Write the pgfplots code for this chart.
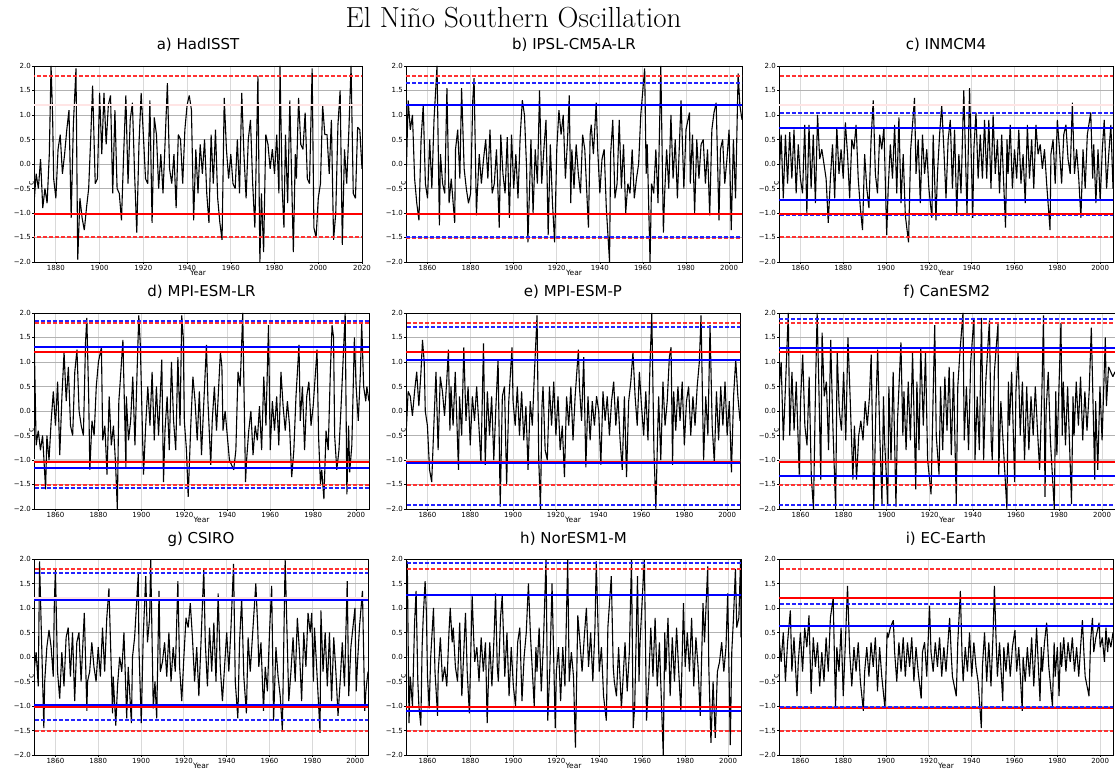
\documentclass[border=0pt]{standalone}
\usepackage{fontspec}
\usepackage{pgfplots}
\pgfplotsset{compat=1.18}
\newfontfamily\dv{DejaVu Sans}
\definecolor{lred}{RGB}{255,50,50}
\definecolor{lblue}{RGB}{35,35,255}
\newcommand{\hlrs}[1]{\addplot[forget plot, draw=red, line width=2pt, solid] coordinates {(1800,#1) (2100,#1)};}
\newcommand{\hlbs}[1]{\addplot[forget plot, draw=blue, line width=2pt, solid] coordinates {(1800,#1) (2100,#1)};}
\newcommand{\hlrd}[1]{\addplot[forget plot, draw=lred, line width=2pt, dash pattern=on 4pt off 2pt] coordinates {(1800,#1) (2100,#1)};}
\newcommand{\hlbd}[1]{\addplot[forget plot, draw=lblue, line width=2pt, dash pattern=on 4pt off 2pt] coordinates {(1800,#1) (2100,#1)};}
\newcommand{\hlrf}[1]{\addplot[forget plot, draw=red!10, line width=1.5pt, solid] coordinates {(1800,#1) (2100,#1)};}
\newcommand{\hlgb}[1]{\addplot[forget plot, draw=gray!35, line width=3pt, solid] coordinates {(1800,#1) (2100,#1)};}
\pgfplotsset{
  ser/.style={draw=black, line width=1.1pt, mark=none, line join=bevel, forget plot},
  enso/.style={
    scale only axis, width=334pt, height=196pt,
    anchor=south west,
    ymin=-2, ymax=2,
    ytick={-2,-1.5,-1,-0.5,0,0.5,1,1.5,2},
    yticklabels={−2.0,−1.5,−1.0,−0.5,0.0,0.5,1.0,1.5,2.0},
    xmin=1850, xmax=2006,
    xtick={1860,1880,1900,1920,1940,1960,1980,2000},
    xticklabels={1860,1880,1900,1920,1940,1960,1980,2000},
    tick align=outside, major tick length=2pt,
    xtick pos=lower, ytick pos=left,
    tick style={black, line width=0.6pt},
    xmajorgrids, ymajorgrids,
    y grid style={gray!60, line width=0.8pt},
    x grid style={gray!30, line width=0.9pt},
    axis line style={black, line width=0.9pt},
    ticklabel style={font=\dv\fontsize{7}{8}\selectfont, inner sep=1pt},
    xlabel={Year},
    xlabel style={font=\dv\fontsize{7.5}{8}\selectfont, at={(axis description cs:0.5,0)}, anchor=north, yshift=-8pt, inner sep=0pt},
    ylabel={c},
    ylabel style={font=\dv\fontsize{8}{9}\selectfont, at={(axis description cs:0,0.5)}, anchor=south, xshift=-19pt, inner sep=0pt},
    title style={font=\dv\fontsize{15}{16}\selectfont, at={(axis description cs:0.5,1)}, anchor=base, yshift=10pt},
  }
}
\begin{document}
\begin{tikzpicture}
\path[use as bounding box] (0,0) rectangle (1115pt,773pt);
\node[font=\fontsize{29}{32}\selectfont, anchor=base] at (513.5pt,745pt) {El Niño Southern Oscillation};

% a) HadISST
\begin{axis}[enso, at={(34pt,511pt)}, width=328pt, title={a) HadISST}, xmin=1870, xmax=2020,
  xtick={1880,1900,1920,1940,1960,1980,2000,2020}, xticklabels={1880,1900,1920,1940,1960,1980,2000,2020}]
\addplot[ser] coordinates {(1870,-0.8)(1871,-0.2)(1872,-0.5)(1873,0.1)(1874,-0.9)(1875,-0.5)(1876,-0.8)(1877,0.2)(1877.8,2.0)(1878.5,1.0)(1879,-0.3)(1880,-0.7)(1881,0.3)(1882,0.6)(1883,-0.2)(1884,0.2)(1885,0.7)(1886,1.1)(1887,-1.1)(1888,0.8)(1889.2,1.95)(1890,-1.95)(1891,-0.7)(1892,-1.1)(1893,-1.35)(1894,-0.9)(1895,-0.5)(1896,0.6)(1896.8,1.6)(1898,-0.4)(1899,-0.3)(1900,1.45)(1901,0.2)(1902,1.45)(1903,0.4)(1904,1.2)(1905,1.4)(1906,-0.6)(1907,1.1)(1908,-0.5)(1909,-0.6)(1910,-1.15)(1911,0.2)(1912,1.4)(1913,-0.4)(1914,0.9)(1915,1.25)(1916,-0.2)(1917,-1.4)(1918,0.4)(1919,1.45)(1920,0.6)(1921,-0.3)(1922,-0.4)(1923,1.3)(1924,-1.2)(1925,0.95)(1926,0.6)(1927,-0.5)(1928,0.2)(1929,-0.6)(1930,0.5)(1931,1.65)(1932,-0.1)(1933,-0.4)(1934,0.2)(1935,-0.9)(1936,0.6)(1937,0.5)(1938,-0.4)(1939,0.7)(1940,1.2)(1941,1.4)(1942,1.1)(1943,-1.15)(1944,0.3)(1945,-0.6)(1946,0.4)(1947,-0.2)(1948,0.5)(1949,-0.6)(1950,-1.2)(1951,0.6)(1952,-0.4)(1953,0.7)(1954,-0.7)(1955,-1.2)(1956,-1.55)(1957,1.35)(1958,0.3)(1959,-0.3)(1960,0.2)(1961,-0.4)(1962,-0.5)(1963,0.5)(1964,-0.6)(1965,1.45)(1966,0.2)(1967,-0.7)(1968,0.5)(1969,0.9)(1970,-0.4)(1971,-1.3)(1972.4,1.8)(1973.3,-2.0)(1974,-0.6)(1975,-1.8)(1976,0.6)(1977,0.4)(1978,-0.1)(1979,0.3)(1980,-0.2)(1981,0.6)(1982,-0.6)(1982.5,2.0)(1983.5,-0.5)(1984.3,-1.3)(1985,0.6)(1986,-0.8)(1987,1.3)(1988.6,-1.8)(1989.5,0.2)(1990,-0.3)(1991,1.35)(1992,0.4)(1993,0.3)(1994,1.05)(1995,-0.3)(1996,-0.4)(1997.2,1.95)(1998,-1.3)(1999,-1.5)(2000,-0.7)(2001,-0.4)(2002,1.2)(2003,0.6)(2004,0.6)(2005,-0.2)(2006,0.9)(2007,-1.55)(2008,-1.0)(2009,0.8)(2010,1.5)(2011,-1.65)(2012,0.3)(2013,-0.4)(2014,0.7)(2015,2.0)(2016,-0.6)(2017,-0.7)(2018,0.75)(2019,0.7)(2020,-0.1)};
\hlrf{1.2}
\hlrd{1.79}
\hlrd{-1.5}
\hlrs{-1.03}
\end{axis}

% b) IPSL-CM5A-LR
\begin{axis}[enso, at={(406pt,511pt)}, width=336pt, title={b) IPSL-CM5A-LR}]
\addplot[ser] coordinates {(1850,-0.4)(1851,1.3)(1852,0.7)(1853,1.0)(1854,-0.3)(1855,-0.8)(1856,-1.15)(1857,0.5)(1858,1.2)(1859,-0.4)(1860,-0.7)(1861,0.5)(1862,-0.5)(1863,0.9)(1864.4,2.0)(1865.5,-1.25)(1866,0.2)(1867,-0.4)(1868,-0.6)(1869,1.55)(1870,-0.8)(1871,-0.3)(1872.6,-1.2)(1873,0.3)(1874,0.7)(1875,-0.3)(1875.8,1.55)(1877,-0.1)(1878,-0.5)(1879,-0.8)(1880,-0.6)(1881,1.3)(1881.6,1.75)(1882.7,-1.05)(1883,-0.7)(1884,0.2)(1885,-0.4)(1886,0.1)(1887,0.5)(1888,-0.3)(1889,0.7)(1890,-0.6)(1891,-0.4)(1892,0.3)(1893.3,-1.3)(1894,0.6)(1895,-0.2)(1896,-0.6)(1897,0.55)(1898,-1.1)(1899,0.6)(1900,-0.5)(1901,0.2)(1902,-0.7)(1903,0.55)(1904,1.3)(1905,1.0)(1906,-0.1)(1906.6,-1.6)(1907.5,-0.3)(1908,0.5)(1909,-1.0)(1910,0.3)(1911,-0.4)(1912,1.5)(1913,-0.4)(1914,0.3)(1915,0.9)(1916,-1.45)(1917,0.4)(1918,-0.8)(1919,-1.6)(1920,0.3)(1921,1.1)(1922,0.6)(1923,1.0)(1924,-0.3)(1925,0.5)(1925.8,1.4)(1926.5,-0.8)(1927,0.3)(1928,-0.5)(1929,0.4)(1930,-0.2)(1931,-0.6)(1932,0.6)(1933,0.3)(1934.7,-1.3)(1935.5,0.6)(1936,0.8)(1937,0.2)(1938.3,1.25)(1939,0.3)(1940,-0.6)(1941,0.1)(1942,0.3)(1943,-0.9)(1944.5,-2.0)(1945,0.2)(1946,0.9)(1947,-0.7)(1948,-0.4)(1949,0.9)(1950,-0.5)(1951,0.4)(1952,-1.0)(1953,-0.4)(1954,-0.6)(1955,0.3)(1956,-0.7)(1957,-0.3)(1958,0.0)(1959,1.0)(1960.8,1.95)(1961.5,-0.2)(1962,0.4)(1963.3,-2.0)(1964,-0.4)(1965,-0.6)(1966,0.3)(1967,-0.8)(1968.3,2.0)(1969.5,-1.4)(1970,-0.7)(1971,0.3)(1972,-0.5)(1973,1.0)(1974,-0.3)(1975,0.5)(1976,-0.7)(1977.7,1.3)(1978.5,0.2)(1979,-0.5)(1980,0.7)(1981.6,1.05)(1982,-0.4)(1983,0.6)(1984,-1.0)(1985,0.5)(1986,-0.3)(1987,0.4)(1988,0.5)(1989,-0.4)(1990,0.3)(1991,-1.05)(1992,0.7)(1993,1.05)(1994,1.25)(1995.3,-1.15)(1996,0.3)(1997,0.5)(1998,-0.4)(1999,0.1)(2000,0.7)(2001,-1.35)(2002,0.5)(2003,-0.7)(2004.2,1.85)(2005,1.2)(2006,0.9)};
\hlrd{1.79}
\hlrd{-1.51}
\hlbd{1.65}
\hlbd{-1.48}
\hlbs{1.2}
\hlrs{-1.03}
\end{axis}

% c) INMCM4
\begin{axis}[enso, at={(779pt,511pt)}, width=334pt, title={c) INMCM4}]
\addplot[ser] coordinates {(1850,-0.3)(1851,0.6)(1852,-0.7)(1853,0.6)(1854,-0.4)(1855,0.65)(1856,-0.3)(1857,0.7)(1858,-0.6)(1859,0.4)(1860,-0.3)(1861,-0.6)(1862,0.8)(1863,-1.0)(1864,0.8)(1865,-0.5)(1866,0.6)(1867,-0.8)(1868,1.0)(1869,0.1)(1870,0.3)(1871,0.0)(1872,-0.3)(1873,-1.2)(1874,-0.3)(1875,0.4)(1876,-0.7)(1877,0.75)(1878,-0.2)(1879,0.3)(1880,-0.3)(1881,0.85)(1882,0.2)(1883,-0.7)(1884,0.5)(1885,0.3)(1886,0.8)(1887,-0.3)(1888,-0.9)(1889,-1.35)(1890,0.2)(1891,-0.5)(1892,-0.9)(1893,0.5)(1894,1.3)(1895,-0.2)(1896,-0.6)(1897,0.6)(1898,0.3)(1899,0.75)(1900.3,-1.45)(1901,-0.5)(1902,0.4)(1903,-0.3)(1904,0.8)(1905,-0.6)(1906,0.95)(1907,-0.8)(1908,0.2)(1909,-1.05)(1910.5,-1.6)(1911.5,0.3)(1913.3,1.35)(1914,-0.2)(1915,0.5)(1916,-0.8)(1917,0.6)(1918,-0.2)(1919,0.3)(1920,-0.5)(1921.4,-1.1)(1922,0.6)(1923.3,-1.15)(1924,-0.2)(1925,0.6)(1926,1.2)(1927,0.3)(1928,-0.7)(1929,0.5)(1930,0.9)(1931,-0.5)(1932,0.7)(1933,-1.0)(1934,0.2)(1935,-0.6)(1936.3,1.5)(1937.8,-1.0)(1939,1.55)(1940.5,-1.1)(1941,0.3)(1942,1.05)(1943,-0.3)(1944,0.6)(1945,-0.3)(1946,0.9)(1947,-0.3)(1948,0.9)(1949,-0.5)(1950,1.0)(1951,-0.2)(1952,0.5)(1953,-0.6)(1954,0.6)(1955.8,-1.3)(1956.5,0.5)(1957,-0.2)(1958,0.8)(1959,-0.5)(1960,0.3)(1961,-0.3)(1962,0.7)(1963,-0.4)(1964,0.2)(1965,-0.8)(1966,0.8)(1967,-0.3)(1968,0.5)(1969,-0.5)(1970,0.8)(1971,0.2)(1972,0.4)(1973,-0.1)(1974,0.3)(1975,-0.4)(1976.6,-1.35)(1977,0.2)(1978,0.5)(1979,-0.4)(1980,0.9)(1981,0.3)(1982,-0.4)(1983,0.6)(1984,0.8)(1985,0.1)(1986,-0.2)(1987,1.25)(1988,-0.2)(1989,0.3)(1990,-0.3)(1991,-1.1)(1992,0.3)(1993,-0.5)(1994,0.6)(1995.6,1.05)(1996.5,-0.3)(1997,0.4)(1998,-0.8)(1999,0.3)(2000,-0.75)(2001,0.3)(2001.9,0.9)(2003,-0.5)(2004,0.2)(2005,0.8)(2006,-0.5)};
\hlrf{1.2}
\hlrd{1.79}
\hlrd{-1.5}
\hlbd{1.05}
\hlbd{-1.05}
\hlbs{0.74}
\hlbs{-0.74}
\hlrs{-1.03}
\end{axis}

% d) MPI-ESM-LR
\begin{axis}[enso, at={(34pt,264pt)}, width=335pt, title={d) MPI-ESM-LR}]
\hlgb{-1.02}
\addplot[ser] coordinates {(1850,1.7)(1851,-0.7)(1852,-0.4)(1853,-0.8)(1854,-0.5)(1855.4,-1.6)(1856,-0.5)(1857,-1.0)(1858,-0.2)(1859,0.4)(1860,-0.3)(1861,0.6)(1862,-0.9)(1863,0.3)(1864,1.2)(1865,0.2)(1866,0.9)(1867,-0.3)(1868,-0.5)(1869,0.8)(1870,1.25)(1871,0.0)(1872,-0.3)(1873,-0.5)(1874,1.4)(1874.6,1.9)(1875.5,0.2)(1876,-1.2)(1877,-0.2)(1878,-0.5)(1879,0.5)(1880,1.0)(1881.4,1.3)(1882,-0.6)(1883,-0.3)(1884,-1.3)(1885,0.3)(1886,-0.7)(1887,-0.3)(1888,-1.1)(1888.8,-2.0)(1889.5,0.2)(1890,0.5)(1891.4,1.45)(1892.8,-1.15)(1893,0.3)(1894,-0.6)(1895,-0.2)(1896,0.7)(1897,-0.7)(1898,0.8)(1898.8,1.95)(1899.5,1.35)(1901,-1.3)(1902,-0.3)(1903,0.5)(1904,-0.3)(1905,0.8)(1906,-0.6)(1907,0.5)(1908,-0.5)(1909.5,1.05)(1910.3,-1.45)(1911,-0.4)(1912,0.3)(1913,-0.8)(1914,1.0)(1915,-0.2)(1916,-0.8)(1917,1.1)(1918,-0.3)(1918.8,1.95)(1919.5,1.5)(1920,-0.2)(1921,-0.8)(1921.8,-1.75)(1923,-0.3)(1924,0.7)(1925,0.2)(1926,-0.6)(1927,0.4)(1928,-0.9)(1929,0.1)(1930.3,1.35)(1931,0.2)(1932.3,-1.1)(1933,-0.2)(1934,0.5)(1935,-0.4)(1936,0.5)(1936.8,1.2)(1937.5,0.9)(1938,-0.4)(1939,0.0)(1940,-0.5)(1941,-1.0)(1943,-1.2)(1944,-0.8)(1945,0.8)(1946,0.5)(1947.2,2.0)(1948.5,-1.45)(1949,-1.0)(1950,-0.4)(1951,0.0)(1952,-0.9)(1953,-0.3)(1954,-0.6)(1955,0.1)(1956,-0.8)(1957,0.7)(1958,-0.3)(1959.2,1.75)(1960,-0.8)(1961,0.2)(1962,-0.4)(1963,0.3)(1964,-0.7)(1965,0.8)(1966,0.1)(1967,-0.4)(1968,0.2)(1969,-0.3)(1970,-1.35)(1971,-0.8)(1972,0.3)(1973.4,1.35)(1974,-0.2)(1975,0.5)(1976,-0.8)(1977,0.3)(1978,0.6)(1979,-0.3)(1980,0.1)(1981.8,1.25)(1982.5,-0.5)(1983.4,-1.5)(1984,-1.2)(1985,-1.8)(1986,-0.4)(1987,-0.8)(1988,0.8)(1988.8,1.75)(1989.5,1.5)(1990,-0.5)(1991,-1.2)(1992,-0.8)(1993,0.1)(1994.9,2.0)(1995.7,-1.7)(1996.5,-0.3)(1997,-1.25)(1998,-0.7)(1999.2,1.5)(2000,0.5)(2001,-0.2)(2002,0.8)(2002.6,1.8)(2003.5,0.5)(2004.5,0.2)(2005,0.5)(2006,0.2)};
\hlbd{1.83}
\hlbd{-1.58}
\hlrd{1.79}
\hlrd{-1.52}
\hlbs{1.3}
\hlbs{-1.17}
\hlrs{1.2}
\hlrs{-1.05}
\end{axis}

% e) MPI-ESM-P
\begin{axis}[enso, at={(406pt,264pt)}, width=334pt, title={e) MPI-ESM-P}]
\hlgb{-1.02}
\addplot[ser] coordinates {(1850,-0.5)(1851,0.4)(1852,0.3)(1853,-0.1)(1854,0.4)(1855,0.8)(1856,0.1)(1857,0.8)(1857.7,1.45)(1858.5,1.0)(1859,0.0)(1860,-0.3)(1861,-1.2)(1862,-1.45)(1863,-0.3)(1864,0.8)(1865,-0.8)(1866,0.7)(1867,0.4)(1868,-0.1)(1869,0.6)(1869.8,1.25)(1870.5,-0.4)(1871,0.5)(1872,-0.3)(1873,0.8)(1874.5,-1.2)(1875,0.3)(1876,-0.5)(1877,1.3)(1878,-0.2)(1879,0.5)(1880,-0.7)(1881,0.3)(1882,-0.2)(1883,0.5)(1885,-1.05)(1886.2,1.38)(1887,-1.1)(1888,0.4)(1889,-0.5)(1890,0.3)(1891,-1.0)(1892,0.1)(1893,1.05)(1894,-1.95)(1895,0.3)(1896,0.5)(1897,-1.5)(1898,0.2)(1899.5,1.3)(1900,0.2)(1901,-0.3)(1902,0.5)(1903,-0.5)(1904,0.4)(1905,-0.6)(1906,0.1)(1907,-1.2)(1908,0.2)(1909,-0.3)(1910,0.8)(1911.2,1.95)(1912,-1.0)(1912.8,-2.0)(1913.5,0.1)(1914,0.5)(1915,-0.8)(1916,-1.0)(1917,0.5)(1918,-0.3)(1919,0.6)(1920,-0.5)(1921,0.3)(1922,-0.8)(1923,-0.3)(1924,-1.35)(1925,0.3)(1926,-0.3)(1927,0.5)(1928,-0.6)(1929,0.3)(1930.5,1.25)(1931,0.5)(1932,-0.2)(1933,1.1)(1934,-1.15)(1935,0.3)(1936,-0.6)(1937,0.2)(1938,-0.3)(1939,0.3)(1940,0.0)(1941,-1.1)(1942,0.4)(1943,-0.2)(1944,0.3)(1945,-0.5)(1946,0.2)(1947,0.6)(1948,-0.3)(1949,0.3)(1950,-0.6)(1951,-1.2)(1952,0.3)(1953,-1.35)(1954,0.2)(1955,0.6)(1956,1.2)(1957,0.3)(1958,-0.3)(1959,0.8)(1960,0.1)(1961,-0.5)(1962,0.4)(1963,-0.6)(1964,1.0)(1964.8,2.0)(1965.8,-0.8)(1966.7,-2.0)(1967.5,-0.5)(1968,0.3)(1969,-1.0)(1970,0.6)(1971,-0.3)(1972,0.2)(1973,1.1)(1973.8,1.3)(1974.5,-1.1)(1975,0.4)(1976,-0.4)(1977,0.5)(1978,-0.2)(1979,0.6)(1980,-0.7)(1981,0.2)(1982,0.5)(1983,-0.5)(1984,0.3)(1985,-0.3)(1986,0.5)(1987,1.0)(1987.8,1.95)(1988.5,0.2)(1989,-1.0)(1990,0.3)(1991,-0.5)(1992,1.75)(1993,-0.3)(1994,-1.05)(1995,0.4)(1996,-0.6)(1997,0.5)(1998,-0.3)(1999,0.6)(2000,-0.5)(2001,0.2)(2002,-1.25)(2003,0.3)(2004,1.05)(2005,0.3)(2006,-0.2)};
\hlrd{1.79}
\hlrd{-1.52}
\hlbd{1.71}
\hlbd{-1.92}
\hlrs{1.2}
\hlrs{-1.05}
\hlbs{1.04}
\hlbs{-1.07}
\end{axis}

% f) CanESM2
\begin{axis}[enso, at={(779pt,264pt)}, width=336pt, title={f) CanESM2}]
\hlgb{-1.02}
\addplot[ser] coordinates {(1850,0.4)(1851,1.0)(1852,-0.6)(1853,0.5)(1854.3,2.0)(1855,-0.5)(1856,0.8)(1857,-0.4)(1858,0.6)(1859.4,-1.3)(1860,0.2)(1861,1.15)(1862,-0.3)(1863,-0.7)(1864,0.7)(1865,-1.35)(1866,-2.0)(1867,0.6)(1867.7,2.0)(1868.5,0.5)(1869.4,-1.4)(1870,1.6)(1871,0.3)(1872,0.6)(1873,-0.8)(1874,1.45)(1875,-0.3)(1876.3,-2.0)(1877,1.2)(1878,0.0)(1879,-0.4)(1880,0.8)(1881,-0.6)(1882,1.5)(1883,0.3)(1884.3,-1.4)(1885,-0.3)(1886,-1.4)(1887,-0.5)(1888,-0.2)(1889,-0.6)(1890,0.2)(1891,-0.3)(1892,0.3)(1892.8,1.15)(1894,-2.0)(1895,0.1)(1895.8,1.25)(1896.8,-0.5)(1897.8,-1.9)(1898.5,0.3)(1899,-0.6)(1900.5,-1.9)(1901,0.5)(1902,-1.0)(1903,0.8)(1904.3,-1.95)(1905,-0.2)(1906.6,1.4)(1907.5,-0.5)(1908,0.4)(1909,-0.8)(1910,0.6)(1911,-0.6)(1912,1.2)(1913.5,-1.6)(1914,0.6)(1915,-0.8)(1915.8,1.3)(1917,-0.3)(1918,1.2)(1919,-1.0)(1920.6,-1.7)(1921.5,0.2)(1922.3,1.75)(1923,-0.5)(1924.3,-1.3)(1925,0.5)(1926,-0.8)(1927,0.7)(1928,-0.4)(1929,0.9)(1930,-0.9)(1931,0.8)(1932.3,-1.9)(1933,0.5)(1934,1.2)(1935.4,2.0)(1936,-0.6)(1937,0.5)(1938,-0.8)(1939,1.0)(1940.5,1.9)(1941,-1.0)(1942,0.3)(1943,-0.8)(1944,1.9)(1945,-1.0)(1946,0.6)(1947.7,1.85)(1948.5,-0.6)(1949,-1.0)(1950,0.8)(1951.7,1.8)(1952,-1.3)(1953,0.2)(1954,-0.6)(1955.8,-2.0)(1956.5,0.6)(1957,-0.3)(1958,0.8)(1959.4,-1.45)(1960,0.4)(1961,1.2)(1962,-0.5)(1963,0.6)(1964,-1.0)(1965,0.5)(1966,-0.8)(1967,0.3)(1968,-0.5)(1969,0.5)(1970,-0.4)(1971,-1.2)(1972,0.3)(1972.8,1.95)(1973.5,-1.75)(1974,0.0)(1975,0.8)(1976,-0.6)(1977.8,-2.0)(1978.5,0.4)(1979,-0.9)(1980.9,1.8)(1981.5,-0.5)(1982,0.6)(1983,-0.7)(1984,0.5)(1985.8,-1.9)(1986.5,0.3)(1987,-0.5)(1988,0.6)(1989,-0.3)(1990,0.7)(1991,-0.6)(1992,0.4)(1993,-0.4)(1994,0.4)(1995,1.7)(1996.6,-1.4)(1997,0.2)(1998,-1.2)(1999,0.5)(2000,-0.6)(2001.5,1.5)(2002,0.1)(2003,0.9)(2004,0.8)(2005,0.7)(2006,0.8)};
\hlbd{1.87}
\hlbd{-1.92}
\hlrd{1.79}
\hlrd{-1.52}
\hlbs{1.29}
\hlbs{-1.32}
\hlrs{1.2}
\hlrs{-1.05}
\end{axis}

% g) CSIRO
\begin{axis}[enso, at={(34pt,18pt)}, width=334pt, title={g) CSIRO}]
\addplot[ser] coordinates {(1850,-0.3)(1851,0.1)(1852,-0.6)(1852.6,1.95)(1853.5,0.4)(1854.6,-1.45)(1855,-0.5)(1856,0.2)(1857,0.55)(1858,0.2)(1859,-0.4)(1859.5,1.1)(1860,1.8)(1861,-0.3)(1862,-0.85)(1863,0.1)(1864,-0.6)(1865,0.4)(1866,0.6)(1867,-0.4)(1868,0.5)(1869,-0.9)(1870,0.3)(1871,0.5)(1872,-0.5)(1873.5,0.9)(1874.7,-1.1)(1875,-0.5)(1876,-0.3)(1877,0.3)(1878,-0.2)(1879,-0.5)(1880,0.2)(1881,-0.4)(1882,0.6)(1883,-0.3)(1884,0.8)(1885,1.4)(1886.7,-1.15)(1887,-0.4)(1888.2,-1.4)(1889,-0.6)(1890,0.0)(1891,-0.3)(1892,0.5)(1893.3,-1.25)(1894,-0.2)(1895.5,-1.35)(1896,0.0)(1897,0.4)(1898.7,1.7)(1899,0.2)(1900.1,-1.35)(1901,0.4)(1902.2,1.65)(1903,0.3)(1904,0.8)(1904.5,2.0)(1905.7,-1.05)(1906.5,-0.5)(1907.3,-1.25)(1908.4,1.35)(1909,-0.3)(1910,-0.1)(1911,0.3)(1912,-0.4)(1913,0.5)(1914,-0.5)(1915,0.2)(1916,-0.3)(1917.2,1.55)(1918,-0.2)(1919,-0.9)(1920,0.0)(1921,0.8)(1922,0.6)(1923,1.1)(1924,0.4)(1925,-0.5)(1926,0.2)(1927,-0.8)(1928,0.3)(1929.3,1.8)(1930,0.3)(1931,-0.6)(1932,0.6)(1933,-0.3)(1934,0.7)(1935,-0.5)(1936,1.3)(1937,-0.2)(1938,-0.9)(1939,-0.2)(1940,0.5)(1941,-0.3)(1942,0.6)(1943.2,1.9)(1944,-0.5)(1945.2,-1.25)(1946,0.3)(1947,1.2)(1948,-0.4)(1949.2,-1.15)(1950,0.4)(1951,-0.3)(1952,0.4)(1953.6,1.5)(1954.5,0.6)(1955,-0.2)(1956,0.3)(1957.2,-1.1)(1958,-0.2)(1959,-0.7)(1960,0.5)(1961,1.45)(1961.9,-1.3)(1963,0.2)(1964,-0.4)(1965,-0.8)(1966,-1.5)(1967.3,2.0)(1968,0.8)(1969,-0.9)(1970,-0.3)(1971,0.4)(1972,-0.5)(1973,0.8)(1974,0.1)(1975,-0.9)(1976,0.5)(1977,-0.2)(1978,0.9)(1979,0.5)(1979.7,0.9)(1980.5,-0.5)(1981,0.6)(1982,-0.2)(1983.6,-1.55)(1984,0.95)(1985,-0.3)(1986,0.5)(1987,-0.6)(1988,0.5)(1989,-0.9)(1990,0.4)(1991,-0.3)(1992,-1.2)(1993,-0.5)(1994,0.3)(1995,-0.6)(1996.3,1.55)(1997,-0.8)(1998,0.2)(1999.9,1.0)(2000.5,-0.7)(2001,-0.2)(2002,0.6)(2003.4,1.35)(2004.5,-1.1)(2005,-0.7)(2006,-0.3)};
\hlrf{1.2}
\hlrd{1.79}
\hlrd{-1.5}
\hlbd{1.71}
\hlbd{-1.28}
\hlbs{1.16}
\hlbs{-0.97}
\hlrs{-1.03}
\end{axis}

% h) NorESM1-M
\begin{axis}[enso, at={(406pt,18pt)}, width=335pt, title={h) NorESM1-M}]
\addplot[ser] coordinates {(1850,0.6)(1850.6,1.95)(1851.4,-1.35)(1852,-0.4)(1853,-1.0)(1854,0.7)(1854.7,1.35)(1855.5,-0.5)(1856,-1.0)(1856.9,-1.4)(1857.5,0.2)(1858,0.8)(1858.9,1.55)(1859.5,0.9)(1860,-0.4)(1860.8,-1.05)(1861.5,0.0)(1862.8,1.0)(1863.5,-0.3)(1864.7,-1.2)(1865,-0.3)(1866,0.4)(1867,-0.5)(1868,-0.2)(1869,-0.6)(1870,0.5)(1870.6,1.0)(1871.5,0.3)(1872,0.6)(1873,-0.2)(1874,-0.5)(1875,0.7)(1876,-0.8)(1877.7,0.9)(1878.5,-0.3)(1879.5,-1.15)(1880.8,1.25)(1881.5,0.4)(1882,-0.1)(1883,0.2)(1884,-0.5)(1885,0.4)(1886,-0.3)(1887,0.3)(1887.8,-1.35)(1888.5,-0.3)(1889,0.3)(1890,-0.6)(1891,0.4)(1891.7,1.3)(1892.5,-0.2)(1893,-0.5)(1894,0.8)(1894.8,1.25)(1895.5,0.3)(1896,-0.4)(1897,0.5)(1898,-0.8)(1899,0.2)(1900,-0.6)(1901,-1.0)(1902,0.3)(1903,0.6)(1904,-0.9)(1905,0.0)(1906,0.5)(1907,1.5)(1908,0.4)(1909.7,-1.0)(1910.5,0.2)(1911,-0.3)(1912,0.6)(1913,-0.7)(1914,0.3)(1915.2,2.0)(1916,-1.3)(1917,-0.2)(1918,1.5)(1919.5,-1.45)(1920,-0.3)(1921,0.2)(1922,-0.9)(1923,0.2)(1924,-0.6)(1925.3,2.0)(1926,-0.5)(1927,0.1)(1928,-0.4)(1928.9,-1.85)(1930,0.85)(1931,0.3)(1932,-0.3)(1933,0.4)(1934,1.0)(1935,-0.2)(1936,0.5)(1937,-0.5)(1938,0.6)(1938.6,1.95)(1939.5,0.5)(1940,-0.3)(1941,0.2)(1942,-0.8)(1943.3,-1.3)(1944,0.6)(1945.6,1.65)(1946.5,-0.2)(1947,-0.5)(1948,-0.8)(1949,0.2)(1950.3,-1.05)(1951,-0.5)(1952,0.3)(1953,-0.7)(1954,0.1)(1955,2.0)(1955.8,-1.45)(1956.5,-1.0)(1957.8,1.65)(1958.5,-0.5)(1959,0.3)(1960.2,1.35)(1961,2.0)(1962,-1.3)(1963,-0.5)(1964,0.6)(1965,-0.4)(1966,0.8)(1967,-0.6)(1968,0.3)(1969,-1.0)(1969.8,-2.0)(1970.5,0.5)(1971,-0.3)(1972,0.8)(1973,-0.8)(1974,0.4)(1975,-0.5)(1976,0.6)(1977,-0.3)(1978,-1.1)(1979.2,1.1)(1980,-0.2)(1981,0.5)(1982,-0.3)(1983,0.8)(1984,-0.6)(1985,0.4)(1986,-0.2)(1987,-1.2)(1988.3,1.1)(1989,0.3)(1990.5,1.85)(1991,-0.2)(1992,-1.75)(1993,-0.5)(1994,-1.65)(1995,-0.3)(1996,-0.1)(1997,0.3)(1998,-0.3)(1999,0.2)(1999.8,1.3)(2001,-1.8)(2001.7,0.1)(2002.5,0.8)(2003.4,1.8)(2004,0.6)(2005,0.8)(2005.8,2.0)(2006,0.4)};
\hlbd{1.92}
\hlrd{1.79}
\hlrd{-1.5}
\hlbs{1.27}
\hlbs{-1.1}
\hlrs{-1.03}
\end{axis}

% i) EC-Earth
\begin{axis}[enso, at={(779pt,18pt)}, width=334pt, title={i) EC-Earth}]
\addplot[ser] coordinates {(1850,0.4)(1851,-0.1)(1852,0.5)(1853,-0.5)(1854,0.3)(1855.3,0.95)(1856,-0.3)(1857,0.4)(1858.4,-0.8)(1859,-0.1)(1860,0.5)(1861,-0.3)(1862,0.6)(1863,0.2)(1864,0.85)(1865,-0.75)(1866,0.4)(1867,-0.2)(1868,0.3)(1869,-0.6)(1870,0.1)(1871,-0.5)(1872,0.4)(1873,-0.3)(1874,0.8)(1875.3,1.2)(1876.4,-1.05)(1877,0.2)(1878,-0.3)(1879,0.6)(1880,-0.8)(1881,0.3)(1882,1.45)(1883,0.1)(1884,-0.6)(1885,0.2)(1886,-0.3)(1887,0.3)(1888,-0.5)(1889.4,-1.1)(1890,-0.3)(1891,0.2)(1892,-0.4)(1893,0.3)(1894,-0.2)(1895,0.4)(1896,-0.7)(1897,0.2)(1898,-0.4)(1899.5,-1.05)(1900.5,0.5)(1901,0.4)(1902,0.6)(1903.4,0.75)(1904,0.1)(1905,-0.5)(1906,0.3)(1907,-0.3)(1908,0.4)(1909,-0.4)(1910,0.3)(1911,-0.2)(1912,0.4)(1913,-0.5)(1914,0.2)(1915,-0.3)(1916.4,-0.85)(1917,0.1)(1918,0.3)(1919,-0.4)(1920.3,1.05)(1921,0.1)(1922,-0.3)(1923,0.3)(1924,-0.2)(1925,0.4)(1926,-0.4)(1927,0.2)(1928,-0.3)(1929.7,0.8)(1930.5,0.0)(1931,-0.4)(1932.8,-0.8)(1933.5,0.3)(1934.7,1.35)(1935.5,0.0)(1936,-0.5)(1937,0.2)(1938,-0.3)(1939,0.5)(1940,-0.4)(1941,0.3)(1942,-0.2)(1943,-0.5)(1944.5,-1.45)(1945,-0.2)(1946,0.5)(1947,-0.5)(1948,0.3)(1949,-0.6)(1950,0.5)(1950.6,1.45)(1951.5,0.2)(1952,-0.4)(1953,0.3)(1954.5,-0.9)(1955,0.2)(1956,-0.3)(1957,0.3)(1958,-0.4)(1959,0.2)(1960.2,0.55)(1961,-0.3)(1962,0.2)(1963.6,-1.1)(1964,0.0)(1965,-0.5)(1966,0.2)(1967,-0.4)(1968,0.4)(1969,-0.6)(1970.3,0.6)(1971.9,-0.9)(1972.5,0.2)(1973,-0.3)(1974,0.3)(1975,0.7)(1976,-0.2)(1977.7,-1.0)(1978.5,0.3)(1979,-0.4)(1980,0.2)(1980.8,-0.8)(1981.5,0.3)(1982,-0.2)(1983,0.4)(1984,-0.3)(1985,0.3)(1986,-0.1)(1987,0.4)(1988,-0.3)(1989,0.2)(1990,-0.4)(1991,0.3)(1991.7,0.75)(1992.5,0.0)(1993,-0.4)(1994.8,-0.8)(1995.5,0.3)(1996.4,0.8)(1997,0.1)(1998,0.4)(1999.5,0.7)(2000,0.2)(2001,0.4)(2002,-0.1)(2002.7,0.6)(2003.5,0.1)(2004,0.4)(2005,0.2)(2006,0.5)};
\hlrd{1.79}
\hlrd{-1.5}
\hlrs{1.2}
\hlrs{-1.05}
\hlbd{1.08}
\hlbd{-1.03}
\hlbs{0.63}
\end{axis}
\end{tikzpicture}
\end{document}
